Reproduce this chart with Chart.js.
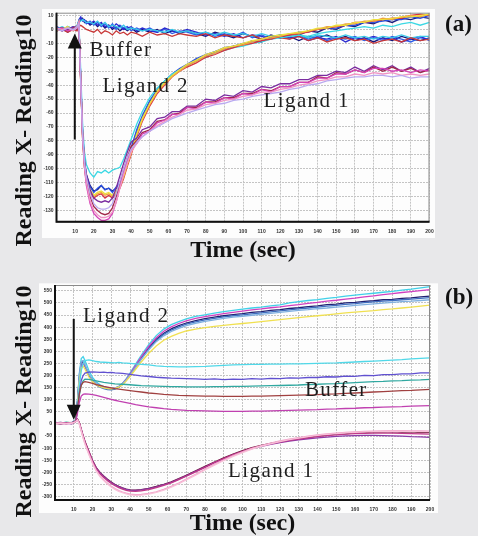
<!DOCTYPE html>
<html>
<head>
<meta charset="utf-8">
<script src="https://cdn.jsdelivr.net/npm/chart.js@4.4.1/dist/chart.umd.min.js"></script>
<style>
  html, body { margin: 0; padding: 0; width: 478px; height: 536px; overflow: hidden; background: #e8e8ea; }
  canvas { position: absolute; left: 0; }
  #chartA { top: 0; }
  #chartB { top: 270px; }
</style>
</head>
<body>
<canvas id="chartA" width="478" height="270"></canvas>
<canvas id="chartB" width="478" height="276"></canvas>
<script>
// --- DATOS ---
// tiempos de muestreo (s), comunes a las dos gráficas
const timeSec = [0,3,6,9,11,12,13,14,15,16, 18,20,22,24,26,28,30,32,34,36,
  38,40,43,46,50,54,58,62,66,70, 75,80,85,90,95,100,105,110,115,120,
  125,130,135,140,145,150,155,160,165,170, 175,180,185,190,195,200];

// marcas de los ejes
const xTicks = [0,10,20,30,40,50,60,70,80,90,100,110,120,130,140,150,160,170,180,190,200];
const yTicksA = [-130,-120,-110,-100,-90,-80,-70,-60,-50,-40,-30,-20,-10,0,10];
const yTicksB = [-300,-250,-200,-150,-100,-50,0,50,100,150,200,250,300,350,400,450,500,550];

// (a) Buffer
const bufA1 = [1,-1,2,0,2,6,8,7,6,4, 6,3,5,2,4,1,4,0,3,1, 2,-1,1,-1,1,-2,0,-3,-1,-2,
  -4,-2,-5,-3,-5,-2,-6,-4,-7,-5, -7,-4,-7,-5,-8,-6,-7,-5,-8,-6, -8,-5,-7,-9,-6,-7];
const bufA2 = [-1,1,-2,1,0,5,7,8,5,6, 3,5,2,4,1,3,0,2,-1,1, -1,1,-2,0,-2,0,-3,-1,-3,-1,
  -3,-5,-2,-4,-6,-3,-5,-7,-4,-6, -5,-8,-5,-6,-4,-7,-5,-8,-6,-9, -6,-8,-5,-7,-8,-6];
const bufA3 = [2,0,1,-1,1,7,9,6,7,5, 4,6,3,5,2,3,1,4,2,0, 1,2,-1,1,-1,-2,1,-1,-2,0,
  -2,-4,-3,-5,-3,-6,-4,-5,-7,-4, -6,-5,-8,-6,-7,-5,-9,-6,-7,-5, -7,-6,-9,-7,-5,-8];
const bufA4 = [0,2,0,2,1,5,6,7,6,5, 5,4,6,3,5,2,3,2,1,3, 0,1,0,-1,0,-1,-2,0,-2,-1,
  -3,-2,-4,-2,-4,-3,-5,-3,-5,-4, -5,-4,-6,-4,-5,-6,-4,-6,-5,-7, -5,-6,-4,-6,-5,-5];
const bufA5 = [-1,0,-2,0,-1,2,3,2,1,0, -1,-2,0,-3,-1,-2,-4,-1,-3,-2, -4,-2,-3,-5,-2,-4,-3,-5,-3,-4,
  -5,-3,-6,-4,-5,-6,-4,-7,-5,-6, -7,-5,-8,-6,-9,-7,-6,-8,-7,-10, -8,-7,-9,-6,-8,-7];

// (a) Ligand 2
const lig2A1 = [1,-1,2,0,3,6,-30,-68,-88,-97, -103,-106,-102,-103,-101,-103,-101,-100,-99,-93,
  -86,-79,-68,-59,-49,-42,-37,-32,-29,-26, -23,-20,-17,-15,-13,-12,-10,-9,-7,-6,
  -5,-4,-5,-3,-2,-1,0,1,2,1, 3,2,4,5,3,5];
const lig2A2 = [-1,1,0,2,1,5,-36,-76,-96,-105, -113,-117,-114,-112,-115,-114,-117,-113,-110,-102,
  -93,-85,-72,-62,-51,-43,-37,-32,-28,-25, -21,-18,-16,-13,-12,-10,-9,-7,-6,-4,
  -4,-2,-2,0,1,1,3,3,5,5, 6,7,7,9,8,10];
const lig2A3 = [0,1,-1,1,2,4,-35,-75,-95,-104, -112,-116,-115,-112,-115,-114,-116,-114,-111,-104,
  -95,-87,-74,-64,-52,-44,-38,-33,-29,-26, -22,-20,-16,-15,-12,-11,-8,-9,-5,-6,
  -3,-4,-1,-2,1,0,3,2,5,4, 7,5,8,7,9,8];
const lig2A4 = [1,0,2,-1,2,5,-38,-78,-98,-107, -115,-119,-117,-116,-118,-117,-119,-116,-112,-105,
  -96,-88,-75,-64,-53,-44,-38,-33,-29,-25, -22,-18,-16,-13,-12,-10,-8,-7,-5,-4,
  -3,-2,-1,1,1,3,3,5,5,7, 7,8,9,9,10,11];
const lig2A5 = [-1,1,-1,1,2,4,-37,-77,-97,-108, -116,-120,-118,-117,-119,-118,-120,-117,-113,-106,
  -97,-89,-76,-65,-54,-45,-39,-34,-30,-26, -23,-19,-17,-14,-12,-11,-9,-7,-6,-5,
  -3,-3,-1,0,2,2,4,4,6,6, 8,7,9,10,9,11];
const lig2A6 = [0,-1,1,0,1,5,-38,-79,-99,-109, -117,-121,-119,-118,-121,-119,-121,-118,-114,-107,
  -98,-90,-77,-66,-55,-46,-40,-34,-30,-27, -24,-20,-18,-15,-13,-11,-10,-8,-7,-5,
  -4,-3,-2,0,1,2,3,5,5,6, 7,8,8,10,11,10];

// (a) Ligand 1
const lig1A1 = [1,-1,0,2,1,4,-36,-74,-93,-104, -115,-121,-123,-124,-123,-124,-121,-114,-105,-96,
  -88,-81,-78,-72,-70,-64,-63,-59,-59,-55, -55,-50,-51,-47,-48,-44,-45,-41,-42,-39,
  -39,-36,-36,-33,-33,-30,-31,-27,-30,-26, -29,-26,-30,-27,-31,-28];
const lig1A2 = [0,1,-1,0,2,5,-39,-78,-99,-112, -125,-132,-135,-137,-137,-136,-132,-124,-113,-103,
  -94,-86,-82,-75,-73,-67,-65,-61,-61,-56, -57,-52,-53,-49,-50,-46,-47,-43,-45,-41,
  -41,-38,-38,-35,-35,-32,-32,-29,-31,-28, -28,-30,-29,-31,-29,-30];
const lig1A3 = [0,1,-1,1,2,4,-38,-76,-96,-108, -120,-127,-130,-132,-133,-132,-128,-120,-110,-100,
  -92,-84,-80,-74,-72,-66,-65,-61,-60,-56, -56,-52,-52,-49,-49,-46,-46,-43,-44,-41,
  -41,-38,-38,-34,-35,-31,-32,-29,-31,-27, -30,-27,-30,-28,-31,-29];
const lig1A4 = [1,0,1,-1,1,5,-37,-77,-98,-110, -123,-130,-133,-135,-135,-134,-131,-124,-114,-104,
  -96,-88,-82,-77,-73,-69,-66,-63,-61,-58, -57,-54,-53,-51,-50,-48,-47,-45,-45,-43,
  -42,-40,-39,-37,-36,-34,-34,-32,-33,-31, -32,-31,-33,-32,-33,-32];
const lig1A5 = [0,-1,1,0,2,4,-37,-75,-95,-106, -118,-125,-128,-129,-129,-128,-125,-118,-109,-100,
  -92,-86,-81,-77,-73,-70,-67,-64,-62,-60, -58,-56,-54,-53,-51,-50,-48,-47,-46,-45,
  -43,-42,-40,-39,-37,-36,-35,-34,-34,-33, -33,-34,-33,-35,-34,-34];

// (b) Ligand 2
const lig2B1 = [5,3,7,4,18,100,210,270,278,262, 222,192,174,162,154,149,146,148,155,168,
  187,210,247,283,328,365,392,410,423,434, 444,451,458,464,469,474,479,483,488,492,
  500,505,510,514,519,523,528,532,536,540, 544,548,553,557,562,567];
const lig2B2 = [3,5,2,6,14,85,185,240,252,238, 204,180,167,158,152,148,146,148,154,166,
  184,206,242,277,320,356,383,401,415,426, 436,443,450,456,461,466,471,475,480,484,
  489,493,498,502,507,511,516,520,525,529, 534,538,543,547,551,555];
const lig2B3 = [4,6,3,5,15,90,190,245,255,240, 205,180,166,157,151,147,145,147,153,165,
  182,203,238,272,315,350,375,393,406,417, 427,435,441,447,452,456,461,464,469,472,
  477,480,485,488,493,495,500,502,506,509, 513,515,519,521,525,528];
const lig2B4 = [6,4,5,3,16,95,200,255,260,242, 203,176,161,152,146,142,141,144,151,163,
  180,200,234,268,310,345,370,388,401,412, 422,430,436,442,447,451,455,459,463,467,
  471,475,479,483,487,490,494,497,501,504, 507,510,513,516,519,522];
const lig2B5 = [3,5,4,6,17,98,205,258,262,245, 208,182,168,158,152,148,146,148,154,166,
  182,202,235,267,306,340,364,382,395,406, 416,424,430,436,441,445,449,453,457,461,
  465,469,472,476,479,483,486,490,493,496, 499,502,505,507,510,513];
const lig2B6 = [4,3,6,5,14,80,175,230,240,226, 195,174,162,154,149,146,145,147,152,162,
  178,196,226,256,292,322,346,362,374,384, 392,398,403,407,411,415,419,423,427,431,
  435,439,443,447,451,455,459,462,465,468, 472,475,479,483,487,491];

// (b) Buffer
const bufB1 = [5,3,6,4,12,70,160,220,250,262, 265,262,258,256,255,254,253,252,254,252,
  251,250,248,246,244,240,238,237,236,236, 237,238,240,242,244,245,246,246,247,247,
  248,248,249,250,251,252,254,256,258,260, 262,264,266,269,271,273];
const bufB2 = [3,5,2,6,13,60,130,180,200,210, 214,215,214,213,214,212,213,211,210,209,
  207,205,202,199,196,193,191,189,188,187, 186,184,186,183,185,184,187,185,188,187,
  190,189,192,192,195,194,198,197,201,200, 204,204,207,207,211,211];
const bufB3 = [4,2,5,3,10,55,120,160,178,185, 184,181,178,175,172,170,168,166,165,164,
  163,162,160,158,157,156,155,154,154,153, 153,153,154,154,155,155,156,157,158,159,
  160,161,163,164,166,167,169,171,173,175, 176,178,179,181,182,184];
const bufB4 = [3,4,2,5,12,60,125,160,172,175, 172,168,163,159,155,152,149,146,144,142,
  140,138,135,132,128,125,122,120,118,117, 116,115,115,114,114,114,115,115,116,117,
  118,119,120,121,123,124,126,128,130,132, 134,136,138,139,141,143];
const bufB5 = [4,2,5,3,9,45,90,115,122,124, 123,121,118,114,110,106,102,98,94,91,
  88,85,80,76,71,67,63,60,58,56, 55,54,53,52,52,52,53,53,54,55,
  56,57,58,59,61,62,64,65,67,68, 70,71,72,74,75,76];

// (b) Ligand 1
const lig1B1 = [3,1,4,2,10,20,5,-22,-48,-72, -112,-150,-180,-200,-215,-228,-240,-250,-258,-264,
  -269,-272,-273,-271,-266,-258,-249,-239,-226,-212, -194,-175,-157,-140,-124,-110,-98,-88,-80,-73,
  -67,-59,-56,-49,-47,-42,-41,-37,-37,-33, -34,-32,-34,-33,-36,-35];
const lig1B2 = [4,2,3,1,11,18,2,-25,-52,-76, -115,-152,-182,-202,-217,-230,-242,-251,-259,-265,
  -270,-273,-274,-272,-267,-260,-251,-241,-228,-214, -196,-178,-160,-144,-128,-114,-102,-92,-84,-77,
  -71,-66,-61,-57,-54,-51,-49,-48,-47,-47, -48,-49,-50,-52,-53,-55];
const lig1B3 = [2,4,1,3,9,17,0,-28,-56,-82, -122,-160,-192,-214,-231,-245,-257,-267,-275,-281,
  -286,-290,-292,-291,-287,-280,-270,-258,-244,-228, -208,-187,-167,-148,-131,-115,-101,-89,-79,-70,
  -63,-56,-50,-45,-41,-38,-35,-33,-31,-30, -29,-28,-28,-29,-29,-30];
const lig1B4 = [3,2,4,3,10,19,4,-24,-50,-74, -114,-154,-185,-206,-221,-234,-246,-255,-263,-269,
  -274,-277,-278,-276,-271,-263,-254,-243,-230,-216, -198,-179,-160,-143,-127,-113,-100,-90,-82,-75,
  -68,-62,-57,-52,-48,-45,-42,-40,-39,-38, -38,-38,-39,-40,-41,-42];
const lig1B5 = [2,3,2,4,9,16,-2,-30,-58,-84, -125,-163,-195,-217,-234,-248,-260,-270,-278,-284,
  -289,-293,-295,-294,-290,-283,-273,-261,-247,-231, -211,-190,-170,-151,-134,-118,-104,-92,-82,-73,
  -65,-58,-52,-47,-43,-40,-37,-35,-33,-32, -31,-30,-30,-31,-32,-32];

// --- ESTILOS ---
const SERIF = '"Liberation Serif", "Times New Roman", Times, serif';
const SANS = '"Liberation Sans", Arial, sans-serif';
const GRID = '#c4c4c4';

const trazasA = [
  [lig1A5, '#b9a9f0'], [lig1A4, '#f094c4'], [lig1A2, '#d442b8'], [lig1A3, '#a02848'], [lig1A1, '#7a2ca0'],
  [lig2A4, '#ece03c'], [lig2A5, '#f0a040'], [lig2A6, '#d83040'], [lig2A1, '#3cd8e4'], [lig2A2, '#2850e0'], [lig2A3, '#1c1c7c'],
  [bufA5, '#c83838'], [bufA4, '#38c8e8'], [bufA3, '#2a2ad0'], [bufA1, '#2f5fe8'], [bufA2, '#14147a']
];
const trazasB = [
  [lig1B5, '#f8c0d8'], [lig1B3, '#f0a0c8'], [lig1B4, '#c03888'], [lig1B2, '#8a3aa8'], [lig1B1, '#6a1838'],
  [bufB5, '#c040b0'], [bufB4, '#a04040'], [bufB3, '#30a8a0'], [bufB2, '#6050d0'], [bufB1, '#50d8e8'],
  [lig2B6, '#f0e050'], [lig2B5, '#80b0e0'], [lig2B4, '#4070c0'], [lig2B2, '#d040c0'], [lig2B3, '#202070'], [lig2B1, '#40d0e8']
];

function crearDatasets(trazas) {
  return trazas.map(([valores, color]) => ({
    data: valores.map((v, i) => ({ x: timeSec[i], y: v })),
    borderColor: color,
    borderWidth: 1.3,
    pointRadius: 0,
    tension: 0,
    fill: false
  }));
}

// fondo blanco, marco, flecha, rótulos
function pluginPanel(cfg) {
  return {
    id: 'panel',
    beforeDraw(chart) {
      const { ctx, chartArea: a } = chart;
      const w = cfg.white;
      ctx.save();
      ctx.fillStyle = '#fdfdfd';
      ctx.fillRect(a.left - w[0], a.top - w[1], a.width + w[0] + w[2], a.height + w[1] + w[3]);
      ctx.restore();
    },
    afterDatasetsDraw(chart) {
      const { ctx, chartArea: a } = chart;
      ctx.save();
      ctx.strokeStyle = '#8a8a8a';
      ctx.lineWidth = 1;
      ctx.strokeRect(a.left, a.top + 0.5, a.width - 0.5, a.height);
      ctx.strokeStyle = '#111';
      ctx.lineWidth = 2;
      ctx.beginPath();
      ctx.moveTo(a.left, a.top);
      ctx.lineTo(a.left, a.bottom);
      ctx.lineTo(a.right, a.bottom);
      ctx.stroke();
      ctx.restore();
    },
    afterDraw(chart) {
      const { ctx, scales: { x, y } } = chart;
      ctx.save();
      // flecha
      const ax = x.getPixelForValue(cfg.arrow.x);
      const y0 = y.getPixelForValue(cfg.arrow.from);
      const y1 = y.getPixelForValue(cfg.arrow.to);
      const dir = Math.sign(y1 - y0);
      ctx.strokeStyle = '#111';
      ctx.fillStyle = '#111';
      ctx.lineWidth = 2;
      ctx.beginPath();
      ctx.moveTo(ax, y0);
      ctx.lineTo(ax, y1 - dir * 12);
      ctx.stroke();
      ctx.beginPath();
      ctx.moveTo(ax, y1);
      ctx.lineTo(ax - 7, y1 - dir * 15);
      ctx.lineTo(ax + 7, y1 - dir * 15);
      ctx.closePath();
      ctx.fill();
      // notas
      ctx.font = '21px ' + SERIF;
      ctx.letterSpacing = '1.4px';
      ctx.fillStyle = '#1e1e1e';
      ctx.textAlign = 'left';
      ctx.textBaseline = 'alphabetic';
      cfg.notas.forEach(n => ctx.fillText(n.texto, x.getPixelForValue(n.x), y.getPixelForValue(n.y)));
      ctx.letterSpacing = '0px';
      // etiqueta del panel
      ctx.font = 'bold 23px ' + SERIF;
      ctx.fillStyle = '#111';
      ctx.fillText(cfg.etiqueta, 445, cfg.etiquetaY);
      // título del eje Y
      ctx.translate(30.5, cfg.tituloY);
      ctx.rotate(-Math.PI / 2);
      ctx.textAlign = 'center';
      ctx.font = 'bold 24px ' + SERIF;
      ctx.fillText('Reading X- Reading10', 0, 0);
      ctx.restore();
    }
  };
}

function crearGrafico(id, trazas, rangoY, medidas, plugin) {
  return new Chart(document.getElementById(id), {
    type: 'line',
    data: { datasets: crearDatasets(trazas) },
    options: {
      responsive: false,
      animation: false,
      events: [],
      layout: { padding: medidas.padding },
      plugins: { legend: { display: false }, tooltip: { enabled: false } },
      scales: {
        x: {
          type: 'linear',
          min: 0,
          max: 200,
          afterFit: s => { s.height = medidas.altoX; },
          afterBuildTicks: s => { s.ticks = xTicks.map(v => ({ value: v })); },
          grid: { color: GRID, drawTicks: false },
          border: { display: false, dash: [2, 1] },
          ticks: {
            autoSkip: false, maxRotation: 0, minRotation: 0,
            padding: medidas.padX,
            color: '#333',
            font: { family: SANS, size: 5, weight: 'bold' },
            callback: v => (v === 0 ? '' : v)
          },
          title: {
            display: true,
            text: 'Time (sec)',
            color: '#111',
            padding: 0,
            font: { family: SERIF, size: 24, weight: 'bold' }
          }
        },
        y: {
          min: rangoY.min,
          max: rangoY.max,
          afterFit: s => { s.width = medidas.anchoY; },
          afterBuildTicks: s => { s.ticks = rangoY.marcas.map(v => ({ value: v })); },
          grid: { color: GRID, drawTicks: false },
          border: { display: false, dash: [2, 1] },
          ticks: {
            autoSkip: false,
            padding: 3,
            color: '#333',
            font: { family: SANS, size: 5, weight: 'bold' }
          }
        }
      }
    },
    plugins: [plugin]
  });
}

// --- PANEL (a) ---
crearGrafico('chartA', trazasA,
  { min: -138, max: 12, marcas: yTicksA },
  { padding: { left: 6, right: 48.5, top: 12.7, bottom: 4.4 }, anchoY: 50.5, altoX: 43.9, padX: 6.5 },
  pluginPanel({
    white: [14.5, 3.7, 5.5, 16.3],
    arrow: { x: 9.8, from: -79, to: -3 },
    notas: [
      { texto: 'Buffer', x: 17.7, y: -18.8 },
      { texto: 'Ligand 2', x: 24.7, y: -45.2 },
      { texto: 'Ligand 1', x: 111, y: -55.5 }
    ],
    etiqueta: '(a)', etiquetaY: 31, tituloY: 130.5
  }));

// --- PANEL (b) ---
crearGrafico('chartB', trazasB,
  { min: -314, max: 574, marcas: yTicksB },
  { padding: { left: 6, right: 48, top: 15, bottom: 7.7 }, anchoY: 49, altoX: 38.3, padX: 7 },
  pluginPanel({
    white: [16, 1.7, 8, 13],
    arrow: { x: 10, from: 434, to: 17 },
    notas: [
      { texto: 'Ligand 2', x: 14.9, y: 422 },
      { texto: 'Buffer', x: 133.3, y: 117 },
      { texto: 'Ligand 1', x: 92.3, y: -217 }
    ],
    etiqueta: '(b)', etiquetaY: 34, tituloY: 131.5
  }));
</script>
</body>
</html>
